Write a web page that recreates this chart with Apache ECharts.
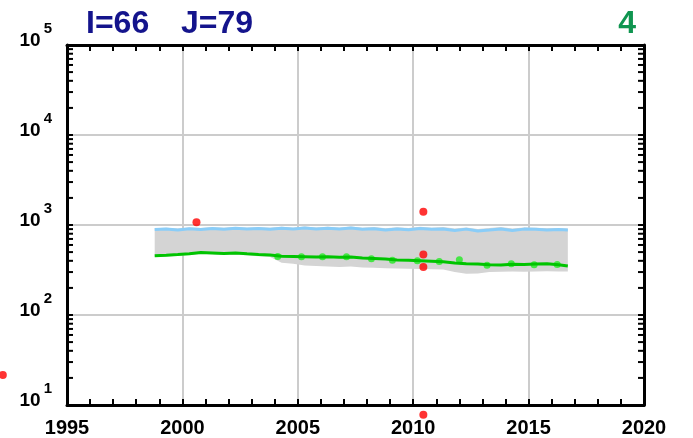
<!DOCTYPE html>
<html><head><meta charset="utf-8">
<script src="https://cdn.jsdelivr.net/npm/echarts@6/dist/echarts.min.js"></script>
<style>html,body{margin:0;padding:0;background:#fff}#c{width:693px;height:438px}</style>
</head><body><div id="c"></div>
<script>
const years = [1998.8,1999.3,1999.8,2000.3,2000.8,2001.3,2001.8,2002.3,2002.8,2003.3,2003.8,2004.3,2004.8,2005.3,2005.8,2006.3,2006.8,2007.3,2007.8,2008.3,2008.8,2009.3,2009.8,2010.3,2010.8,2011.3,2011.8,2012.3,2012.8,2013.3,2013.8,2014.3,2014.8,2015.3,2015.8,2016.3,2016.7];
const blueLine = [890,905,880,910,890,915,895,920,900,915,895,920,900,925,905,920,900,925,895,910,880,905,885,915,895,905,870,900,860,880,905,870,900,895,880,890,880];
const greenLine = [455,462,470,480,495,490,482,488,478,470,465,450,448,445,440,445,438,440,430,425,418,408,405,400,395,390,378,372,368,362,360,366,364,368,370,362,350];
const bandHigh = [920,935,915,940,925,945,930,950,935,945,930,955,935,960,940,955,935,965,930,950,920,945,925,955,930,950,915,940,905,925,950,915,940,935,920,925,915];
const bandLow = [440,448,455,465,475,472,465,468,460,450,440,380,370,355,350,345,342,345,338,335,330,328,326,325,322,320,300,288,290,300,302,305,303,305,306,304,305];
const blobYears = [2004.13,2005.16,2006.07,2007.11,2008.19,2009.1,2010.18,2011.13,2012.0,2013.2,2014.25,2015.24,2016.24];
const blobValues = [446,443,443,443,421,405,400,392,411,356,371,361,365];
const redYears = [2000.61,2010.44,2010.44,2010.44,1992.22,2010.44];
const redValues = [1071,1403,470,341,21.6,7.8];
const xTickLabels = [1995,2000,2005,2010,2015,2020];
const yTickValues = [10,20,30,40,50,60,70,80,90,100,200,300,400,500,600,700,800,900,1000,2000,3000,4000,5000,6000,7000,8000,9000,10000,20000,30000,40000,50000,60000,70000,80000,90000,100000];

const FONT = 'Liberation Sans';
const chart = echarts.init(document.getElementById('c'), null, {renderer:'canvas'});
const axisLineStyle = {color:'#000', width:3};
const tickStyle = {color:'#000', width:2};
const labelRich = {
  b:{fontSize:19, fontWeight:'bold', color:'#000', fontFamily:FONT, lineHeight:19, verticalAlign:'bottom'},
  s:{fontSize:15, fontWeight:'bold', color:'#000', fontFamily:FONT, lineHeight:15, verticalAlign:'bottom', padding:[0,0,14,3]}
};
chart.setOption({
  animation:false,
  backgroundColor:'#fff',
  grid:{left:67, right:49, top:45, bottom:31, containLabel:false},
  graphic:[
    {type:'text', left:86, top:8, style:{text:'I=66', font:'bold 32px "Liberation Sans"', fill:'#14148c'}},
    {type:'text', left:181, top:8, style:{text:'J=79', font:'bold 32px "Liberation Sans"', fill:'#14148c'}},
    {type:'text', right:57, top:8, style:{text:'4', font:'bold 32px "Liberation Sans"', fill:'#0f9550'}}
  ],
  xAxis:[
    {type:'value', min:xTickLabels[0], max:xTickLabels[xTickLabels.length-1], interval:5, position:'bottom',
     axisLine:{onZero:false, lineStyle:axisLineStyle},
     axisTick:{show:true, inside:true, length:6, lineStyle:tickStyle},
     minorTick:{show:true, splitNumber:5, length:6, lineStyle:tickStyle},
     axisLabel:{fontSize:20, fontWeight:'bold', color:'#000', fontFamily:FONT, margin:13, formatter:v=>String(v)},
     splitLine:{show:true, lineStyle:{color:'#cccccc', width:2}}},
    {type:'value', min:xTickLabels[0], max:xTickLabels[xTickLabels.length-1], interval:5, position:'top',
     axisLine:{onZero:false, lineStyle:axisLineStyle},
     axisTick:{show:true, inside:true, length:6, lineStyle:tickStyle},
     minorTick:{show:true, splitNumber:5, length:6, lineStyle:tickStyle},
     axisLabel:{show:false}, splitLine:{show:false}}
  ],
  yAxis:[
    {type:'log', logBase:10, min:10, max:100000, position:'left',
     axisLine:{onZero:false, lineStyle:axisLineStyle}, axisTick:{show:false},
     axisLabel:{margin:15, verticalAlign:'bottom', padding:[0,0,-5,0], formatter:v=>'{b|10}{s|'+Math.round(Math.log10(v))+'}', rich:labelRich},
     splitLine:{show:true, lineStyle:{color:'#cccccc', width:2}}},
    {type:'log', logBase:10, min:10, max:100000, position:'right',
     axisLine:{onZero:false, lineStyle:axisLineStyle}, axisTick:{show:false},
     axisLabel:{show:false}, splitLine:{show:false}}
  ],
  series:[
    {type:'custom', z:1, silent:true, data:[[years[0], bandHigh[0]]],
     renderItem:(params, api)=>{
       const pts=[];
       for(let i=0;i<years.length;i++) pts.push(api.coord([years[i], bandHigh[i]]));
       for(let i=years.length-1;i>=0;i--) pts.push(api.coord([years[i], bandLow[i]]));
       return {type:'polygon', shape:{points:pts}, style:{fill:'#d4d4d4', stroke:null}};
     }},
    {type:'line', z:3, showSymbol:false, data:years.map((y,i)=>[y, blueLine[i]]),
     lineStyle:{color:'#8acdf8', width:3}},
    {type:'scatter', z:4, symbolSize:7, data:blobYears.map((y,i)=>[y, blobValues[i]]),
     itemStyle:{color:'#2de82d', opacity:0.85}},
    {type:'line', z:5, showSymbol:false, data:years.map((y,i)=>[y, greenLine[i]]),
     lineStyle:{color:'#00c400', width:3}},
    {type:'scatter', z:6, clip:false, symbolSize:8, data:redYears.map((y,i)=>[y, redValues[i]]),
     itemStyle:{color:'#ff0000'}},
    {type:'custom', z:7, silent:true, clip:false, data:yTickValues.map(v=>[1995, v]),
     renderItem:(params, api)=>{
       const cs = params.coordSys;
       const y = api.coord([1995, api.value(1)])[1];
       const st = {stroke:'#000', lineWidth:2};
       return {type:'group', children:[
         {type:'line', shape:{x1:cs.x, y1:y, x2:cs.x+6, y2:y}, style:st},
         {type:'line', shape:{x1:cs.x+cs.width-6, y1:y, x2:cs.x+cs.width, y2:y}, style:st}
       ]};
     }}
  ]
});
</script></body></html>
